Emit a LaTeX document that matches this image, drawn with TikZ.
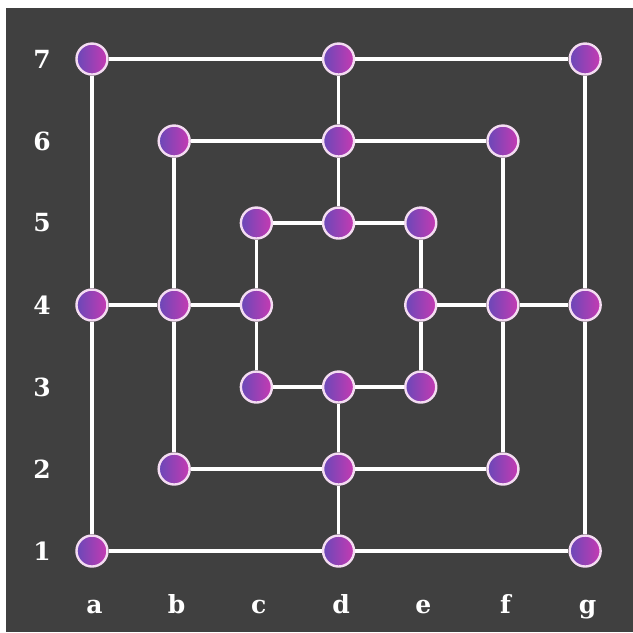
\documentclass[tikz,border=0pt]{standalone}
\usepackage{xcolor}
\usepackage{fontspec}
\setmainfont{DejaVu Serif}
\usetikzlibrary{positioning}
\definecolor{boardbg}{HTML}{404040}
\definecolor{pointleft}{HTML}{6A48B8}
\definecolor{pointright}{HTML}{C63AB2}
\definecolor{pointrim}{HTML}{F4DCF2}
\tikzset{
  point/.style={circle,draw=pointrim,line width=2.4pt,minimum size=31pt,inner sep=0pt,
    left color=pointleft,right color=pointright},
  boardline/.style={draw=white,line width=3.6pt},
  coordlabel/.style={text=white,font=\fontsize{25}{28}\selectfont\bfseries}
}

\begin{document}
\begin{tikzpicture}[x=82.2pt,y=82pt]
        \useasboundingbox (-1.119,-0.988) rectangle (6.582,6.720);
        \fill[boardbg] (-1.046,-0.988) rectangle (6.582,6.622);
        % outer square
        \node[point] (a7) at (0,6) {};
        \node[point] (d7) at (3,6) {};
        \node[point] (g7) at (6,6) {};
        \node[point] (a4) at (0,3) {};
        \node[point] (g4) at (6,3) {};
        \node[point] (a1) at (0,0) {};
        \node[point] (d1) at (3,0) {};
        \node[point] (g1) at (6,0) {};
        % middle square
        \node[point] (b6) at (1,5) {};
        \node[point] (d6) at (3,5) {};
        \node[point] (f6) at (5,5) {};
        \node[point] (b4) at (1,3) {};
        \node[point] (f4) at (5,3) {};
        \node[point] (b2) at (1,1) {};
        \node[point] (d2) at (3,1) {};
        \node[point] (f2) at (5,1) {};
        % inner square
        \node[point] (c5) at (2,4) {};
        \node[point] (d5) at (3,4) {};
        \node[point] (e5) at (4,4) {};
        \node[point] (c4) at (2,3) {};
        \node[point] (e4) at (4,3) {};
        \node[point] (c3) at (2,2) {};
        \node[point] (d3) at (3,2) {};
        \node[point] (e3) at (4,2) {};
        \path[boardline]
          (a7) edge (d7) (d7) edge (g7) (g7) edge (g4) (g4) edge (g1)
          (g1) edge (d1) (d1) edge (a1) (a1) edge (a4) (a4) edge (a7)
          (b6) edge (d6) (d6) edge (f6) (f6) edge (f4) (f4) edge (f2)
          (f2) edge (d2) (d2) edge (b2) (b2) edge (b4) (b4) edge (b6)
          (c5) edge (d5) (d5) edge (e5) (e5) edge (e4) (e4) edge (e3)
          (e3) edge (d3) (d3) edge (c3) (c3) edge (c4) (c4) edge (c5)
          (d7) edge (d6) (d6) edge (d5)
          (d3) edge (d2) (d2) edge (d1)
          (a4) edge (b4) (b4) edge (c4)
          (e4) edge (f4) (f4) edge (g4);
        % labels
        \foreach \r in {1,...,7}
          \node[coordlabel] (rank\r) at (-0.608,\r-1) {\r};
        \foreach \f [count=\i from 0] in {a,b,c,d,e,f,g}
          \node[coordlabel,anchor=base] (file\f) at (\i+0.03,-0.756) {\f};
      \end{tikzpicture}
\end{document}
